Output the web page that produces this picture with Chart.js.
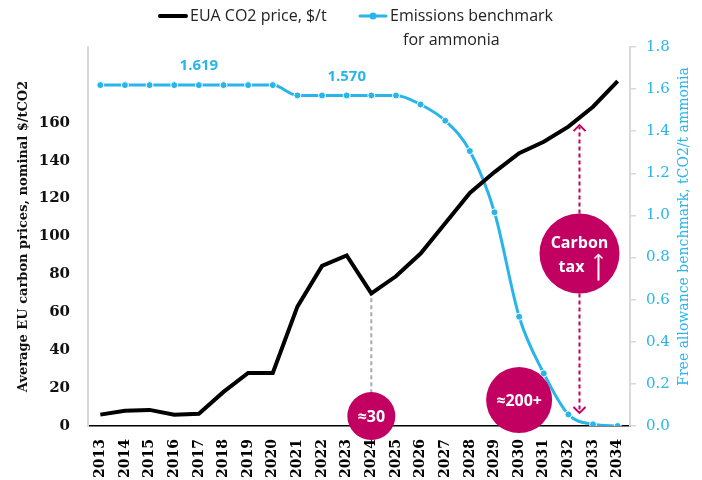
<!DOCTYPE html>
<html>
<head>
<meta charset="utf-8">
<script src="https://cdn.jsdelivr.net/npm/chart.js@4.4.1/dist/chart.umd.min.js"></script>
<style>
  html, body { margin: 0; padding: 0; background: #fff; }
  #wrap { width: 702px; height: 480px; }
</style>
</head>
<body>
<div id="wrap"><canvas id="chart"></canvas></div>
<script>
// data
const years = ['2013', '2014', '2015', '2016', '2017', '2018', '2019', '2020', '2021', '2022', '2023',
  '2024', '2025', '2026', '2027', '2028', '2029', '2030', '2031', '2032', '2033', '2034'];
const euaPrice = [6, 8, 8.5, 6, 6.5, 18, 28, 28, 63, 84.5, 90, 70, 79, 91, 107, 123, 134, 144, 150, 158, 168.5, 182];
const benchmark = [1.619, 1.619, 1.619, 1.619, 1.619, 1.619, 1.619, 1.619, 1.570, 1.570, 1.570, 1.570, 1.570,
  1.527, 1.45, 1.306, 1.015, 0.519, 0.25, 0.055, 0.008, 0.0];
const benchmarkLabels = [{ index: 4, text: '1.619' }, { index: 10, text: '1.570' }];

const BLUE = '#29b5ea';
const MAGENTA = '#c10061';
const SERIF = "'DejaVu Serif', serif";
const SANS = "'Open Sans', sans-serif";

function bubble(ctx, cx, cy, r) {
  ctx.beginPath();
  ctx.arc(cx, cy, r, 0, Math.PI * 2);
  ctx.fillStyle = MAGENTA;
  ctx.fill();
}

function arrowHead(ctx, x, y, dir, size) {
  // dir = -1 pointing up, 1 pointing down
  ctx.beginPath();
  ctx.moveTo(x - size, y - dir * size);
  ctx.lineTo(x, y);
  ctx.lineTo(x + size, y - dir * size);
  ctx.stroke();
}

const extras = {
  id: 'extras',
  afterDraw(chart) {
    const { ctx, scales: { x, y, y1 } } = chart;
    ctx.save();

    // legend
    ctx.lineCap = 'round';
    ctx.strokeStyle = '#000';
    ctx.lineWidth = 4;
    ctx.beginPath(); ctx.moveTo(160, 16); ctx.lineTo(186, 16); ctx.stroke();
    ctx.strokeStyle = BLUE;
    ctx.lineWidth = 3;
    ctx.beginPath(); ctx.moveTo(360, 16); ctx.lineTo(386, 16); ctx.stroke();
    ctx.fillStyle = BLUE;
    ctx.beginPath(); ctx.arc(373, 16, 3.5, 0, Math.PI * 2); ctx.fill();
    ctx.fillStyle = '#222';
    ctx.font = '16px ' + SANS;
    ctx.textBaseline = 'middle';
    ctx.textAlign = 'left';
    ctx.fillText('EUA CO2 price, $/t', 190, 16);
    ctx.fillText('Emissions benchmark', 390, 16);
    ctx.fillText('for ammonia', 403, 40);

    // right axis title
    ctx.save();
    ctx.translate(684, (y1.top + y1.bottom) / 2 - 10);
    ctx.rotate(-Math.PI / 2);
    ctx.textAlign = 'center';
    ctx.fillStyle = BLUE;
    ctx.font = '14px ' + SERIF;
    ctx.fillText('Free allowance benchmark, tCO2/t ammonia', 0, 0);
    ctx.restore();

    // value labels on the benchmark line
    ctx.font = 'bold 15px ' + SANS;
    ctx.fillStyle = BLUE;
    ctx.textAlign = 'center';
    benchmarkLabels.forEach(l => {
      ctx.fillText(l.text, x.getPixelForValue(l.index), y1.getPixelForValue(benchmark[l.index]) - 19);
    });

    // ≈30 bubble with grey dashed leader from 2024 price
    const i24 = years.indexOf('2024');
    const bx = x.getPixelForValue(i24);
    const by = y1.getPixelForValue(0.047);
    ctx.setLineDash([4, 3]);
    ctx.lineCap = 'butt';
    ctx.strokeStyle = '#aaa';
    ctx.lineWidth = 2;
    ctx.beginPath();
    ctx.moveTo(bx, y.getPixelForValue(euaPrice[i24]) + 5);
    ctx.lineTo(bx, by - 24);
    ctx.stroke();
    ctx.setLineDash([]);
    bubble(ctx, bx, by, 24);

    // ≈200+ bubble
    const cx2 = x.getPixelForValue(years.indexOf('2030'));
    const cy2 = y1.getPixelForValue(0.123);
    bubble(ctx, cx2, cy2, 33);

    // carbon tax bubble and arrows
    const cx3 = x.getPixelForValue(19.45);
    const cy3 = y1.getPixelForValue(0.819);
    const r3 = 40;
    const topTip = y1.getPixelForValue(1.429);
    const botTip = y1.getPixelForValue(0.062);
    ctx.strokeStyle = MAGENTA;
    ctx.lineWidth = 2;
    ctx.setLineDash([4, 3]);
    ctx.beginPath();
    ctx.moveTo(cx3, cy3 - r3); ctx.lineTo(cx3, topTip + 2);
    ctx.moveTo(cx3, cy3 + r3); ctx.lineTo(cx3, botTip - 2);
    ctx.stroke();
    ctx.setLineDash([]);
    arrowHead(ctx, cx3, topTip, -1, 6);
    arrowHead(ctx, cx3, botTip, 1, 6);
    bubble(ctx, cx3, cy3, r3);

    // bubble text
    ctx.fillStyle = '#fff';
    ctx.font = 'bold 16px ' + SANS;
    ctx.textAlign = 'center';
    ctx.fillText('≈30', bx, by + 1);
    ctx.fillText('≈200+', cx2, cy2 + 1);
    ctx.fillText('Carbon', cx3, cy3 - 10);
    ctx.fillText('tax', cx3 - 8, cy3 + 14);
    ctx.strokeStyle = '#fff';
    ctx.lineWidth = 2;
    ctx.beginPath();
    ctx.moveTo(cx3 + 19, cy3 + 27); ctx.lineTo(cx3 + 19, cy3 + 2);
    ctx.stroke();
    ctx.lineWidth = 1.5;
    arrowHead(ctx, cx3 + 19, cy3 + 1, -1, 4);

    ctx.restore();
  }
};

new Chart(document.getElementById('chart'), {
  type: 'line',
  data: {
    labels: years,
    datasets: [
      {
        label: 'EUA CO2 price, $/t',
        data: euaPrice,
        yAxisID: 'y',
        borderColor: '#000',
        borderWidth: 4,
        pointRadius: 0,
        tension: 0,
        order: 1
      },
      {
        label: 'Emissions benchmark for ammonia',
        data: benchmark,
        yAxisID: 'y1',
        borderColor: BLUE,
        backgroundColor: BLUE,
        borderWidth: 3,
        pointRadius: 3.5,
        pointBorderColor: '#fff',
        pointBorderWidth: 1,
        cubicInterpolationMode: 'monotone',
        order: 2
      }
    ]
  },
  options: {
    responsive: true,
    maintainAspectRatio: false,
    animation: false,
    layout: { padding: { top: 47, left: 0, right: 0, bottom: 0 } },
    plugins: {
      legend: { display: false },
      tooltip: { enabled: false }
    },
    scales: {
      x: {
        offset: true,
        grid: { display: false },
        border: { color: '#000', width: 1.5 },
        ticks: {
          minRotation: 90,
          maxRotation: 90,
          autoSkip: false,
          padding: 5,
          color: '#000',
          font: { family: SERIF, weight: 'bold', size: 14 }
        },
        afterFit(s) { s.height = 54; }
      },
      y: {
        position: 'left',
        min: 0,
        max: 200,
        grid: { display: false },
        border: { color: '#d9d9d9', width: 2 },
        ticks: {
          stepSize: 20,
          padding: 10,
          color: '#111',
          font: { family: SERIF, weight: 'bold', size: 15 },
          callback: v => (v > 160 ? '' : v)
        },
        title: {
          display: true,
          text: 'Average EU carbon prices, nominal $/tCO2',
          color: '#111',
          font: { family: SERIF, weight: 'bold', size: 13 },
          padding: { top: 16, bottom: 0 }
        },
        afterFit(s) { s.width = 88; }
      },
      y1: {
        position: 'right',
        min: 0,
        max: 1.8,
        grid: { display: true, drawOnChartArea: false, drawTicks: true, tickLength: 6, color: '#d9d9d9', lineWidth: 1.5 },
        border: { color: '#d9d9d9', width: 2 },
        ticks: {
          stepSize: 0.2,
          padding: 10,
          color: BLUE,
          font: { family: SERIF, size: 15 },
          callback: v => v.toFixed(1)
        },
        afterFit(s) { s.width = 72; }
      }
    }
  },
  plugins: [extras]
});
</script>
</body>
</html>
